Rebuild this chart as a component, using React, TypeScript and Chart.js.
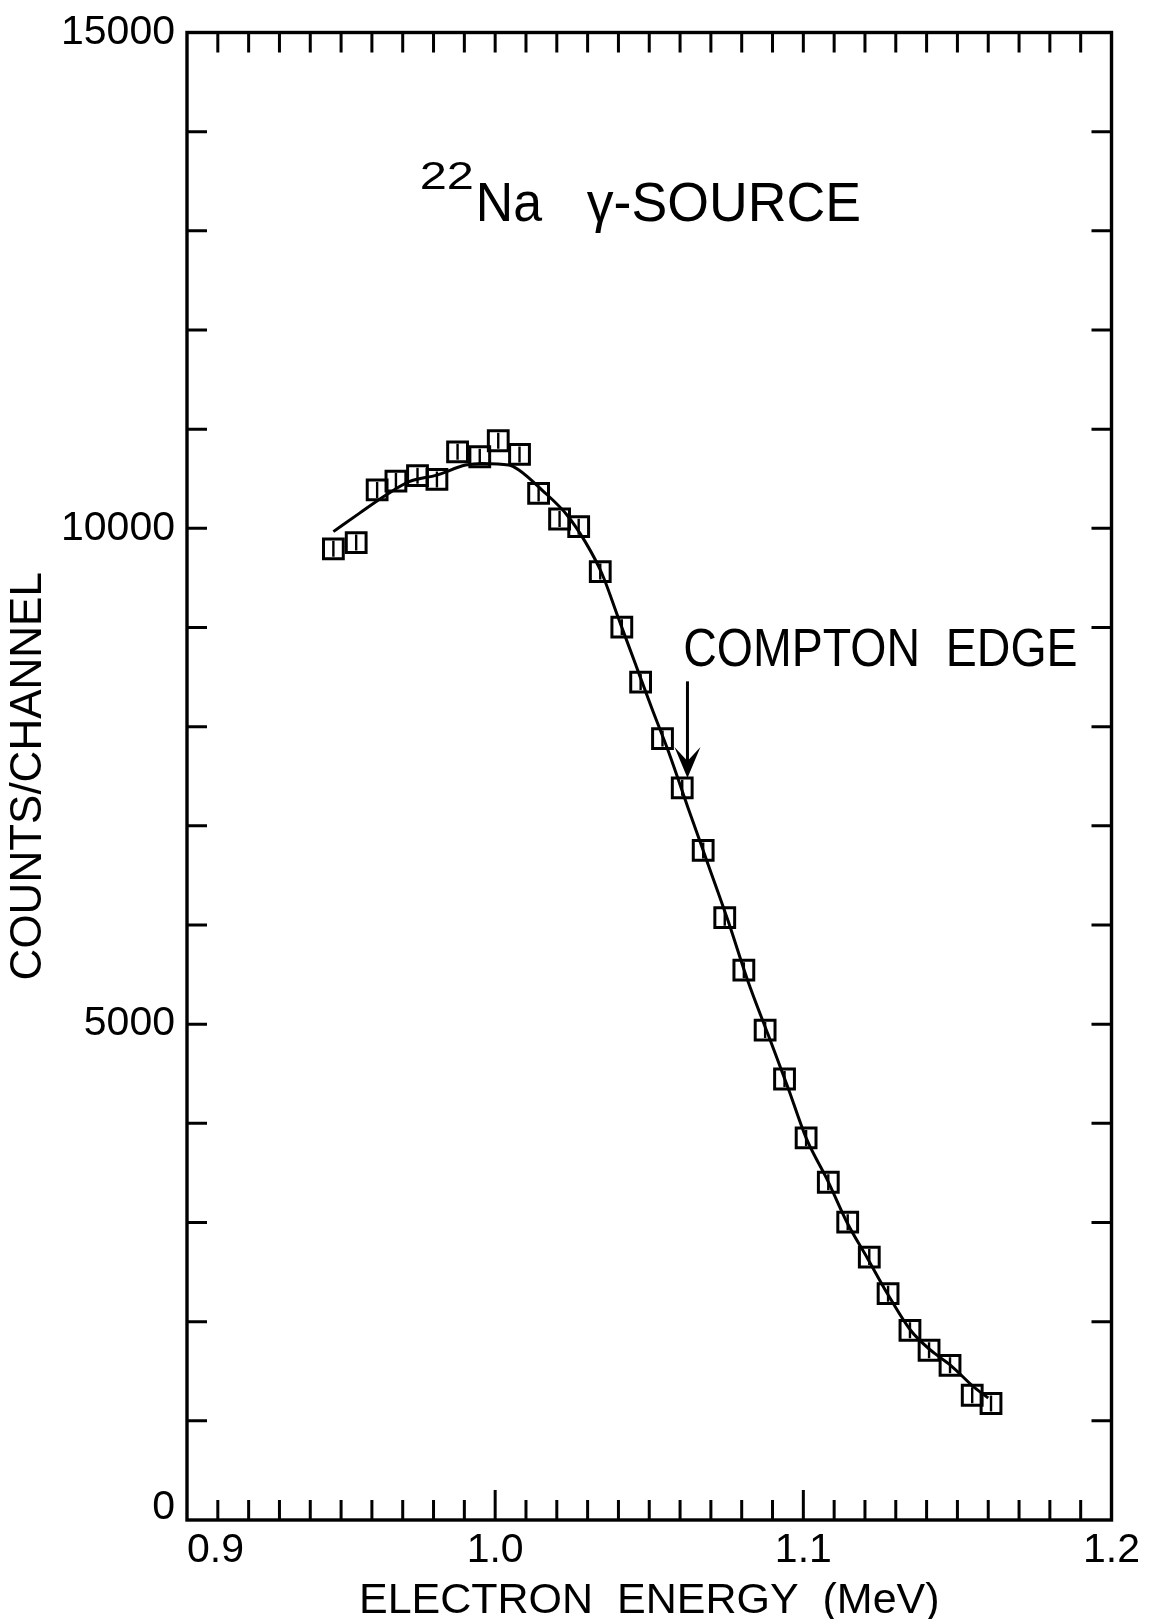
import React, { useEffect, useRef } from 'react';
import { Chart, registerables } from 'chart.js';

Chart.register(...registerables);

// ---- data ----
const ENERGY_MEV = [
  0.9475, 0.9549, 0.9617, 0.9678, 0.9748, 0.9811, 0.9878, 0.995, 1.001, 1.0079,
  1.0141, 1.0209, 1.0271, 1.0341, 1.0411, 1.0472, 1.0543, 1.0607, 1.0675, 1.0745,
  1.0807, 1.0876, 1.0939, 1.1009, 1.1081, 1.1144, 1.1214, 1.1275, 1.1346, 1.1408,
  1.1476, 1.1548, 1.1609,
];
const COUNTS = [
  9793, 9856, 10387, 10477, 10531, 10493, 10772, 10722, 10883, 10745,
  10352, 10094, 10017, 9564, 9003, 8450, 7880, 7383, 6752, 6074,
  5544, 4940, 4447, 3853, 3406, 3003, 2651, 2282, 1913, 1712,
  1560, 1258, 1175,
];
const FIT_ENERGY_MEV = [
  0.9475, 0.9559, 0.9646, 0.9721, 0.9811, 0.9904, 0.9958, 1.0044, 1.0077, 1.0152,
  1.0233, 1.0292, 1.0346, 1.04, 1.0454, 1.0508, 1.0562, 1.0626, 1.0691, 1.0756,
  1.082, 1.0885, 1.095, 1.1009, 1.1079, 1.1144, 1.1208, 1.1273, 1.1348, 1.1413,
  1.1478, 1.1553, 1.16,
];
const FIT_COUNTS = [
  9967, 10151, 10336, 10470, 10537, 10638, 10655, 10638, 10588, 10386,
  10135, 9866, 9547, 9094, 8641, 8188, 7752, 7181, 6611, 6040,
  5436, 4900, 4362, 3853, 3423, 2987, 2640, 2282, 1913, 1712,
  1560, 1342, 1230,
];

const X_TICKS = [0.9, 1.0, 1.1, 1.2];
const X_TICK_LABELS = ['0.9', '1.0', '1.1', '1.2'];
const Y_TICKS = [0, 5000, 10000, 15000];
const Y_TICK_LABELS = ['0', '5000', '10000', '15000'];
const X_MIN = 0.9;
const X_MAX = 1.2;
const Y_MIN = 0;
const Y_MAX = 15000;
const X_MINOR_STEP = 0.01;
const Y_MINOR_STEP = 1000;

const X_TITLE = 'ELECTRON  ENERGY  (MeV)';
const Y_TITLE = 'COUNTS/CHANNEL';
const TITLE_SUP = '22';
const TITLE_NUCLIDE = 'Na';
const TITLE_REST = 'γ-SOURCE';
const EDGE_LABEL = 'COMPTON  EDGE';
const EDGE_ENERGY = 1.0624;
const EDGE_ARROW_FROM = 8457;
const EDGE_ARROW_TO = 7483;

// ---- placement of annotation texts (data coordinates: [left x, right x, baseline y]) ----
const PLACE_SUP = [0.9755, 0.9931, 13420];
const PLACE_NUCLIDE = [0.9937, 1.0152, 13100];
const PLACE_REST = [1.0297, 1.1187, 13100];
const PLACE_EDGE = [1.061, 1.189, 8608];

const FONT = '"Liberation Sans", Arial, sans-serif';

function fitText(ctx: CanvasRenderingContext2D, text: string, size: number, left: number, right: number, baseline: number) {
  ctx.font = `${size}px ${FONT}`;
  ctx.textAlign = 'left';
  ctx.textBaseline = 'alphabetic';
  const w = ctx.measureText(text).width;
  const sx = (right - left) / w;
  ctx.save();
  ctx.translate(left, baseline);
  ctx.scale(sx, 1);
  ctx.fillText(text, 0, 0);
  ctx.restore();
}

const decorPlugin = {
  id: 'decor',
  afterDraw(chart: any) {
    const { ctx, chartArea: a, scales } = chart;
    const x = scales.x;
    const y = scales.y;
    ctx.save();
    ctx.strokeStyle = '#000';
    ctx.fillStyle = '#000';
    ctx.lineWidth = 3.4;
    ctx.strokeRect(a.left, a.top, a.right - a.left, a.bottom - a.top);

    // inward tick marks
    ctx.lineWidth = 3;
    ctx.beginPath();
    const nX = Math.round((X_MAX - X_MIN) / X_MINOR_STEP);
    for (let i = 1; i < nX; i++) {
      const px = x.getPixelForValue(X_MIN + i * X_MINOR_STEP);
      const major = i % 10 === 0;
      ctx.moveTo(px, a.bottom);
      ctx.lineTo(px, a.bottom - (major ? 30 : 20));
      ctx.moveTo(px, a.top);
      ctx.lineTo(px, a.top + 20);
    }
    const nY = Math.round((Y_MAX - Y_MIN) / Y_MINOR_STEP);
    for (let i = 1; i < nY; i++) {
      const py = y.getPixelForValue(Y_MIN + i * Y_MINOR_STEP);
      ctx.moveTo(a.left, py);
      ctx.lineTo(a.left + 20, py);
      ctx.moveTo(a.right, py);
      ctx.lineTo(a.right - 20, py);
    }
    ctx.stroke();

    // title
    fitText(ctx, TITLE_SUP, 39, x.getPixelForValue(PLACE_SUP[0]), x.getPixelForValue(PLACE_SUP[1]), y.getPixelForValue(PLACE_SUP[2]));
    fitText(ctx, TITLE_NUCLIDE, 56, x.getPixelForValue(PLACE_NUCLIDE[0]), x.getPixelForValue(PLACE_NUCLIDE[1]), y.getPixelForValue(PLACE_NUCLIDE[2]));
    fitText(ctx, TITLE_REST, 56, x.getPixelForValue(PLACE_REST[0]), x.getPixelForValue(PLACE_REST[1]), y.getPixelForValue(PLACE_REST[2]));

    // Compton edge label + arrow
    fitText(ctx, EDGE_LABEL, 54, x.getPixelForValue(PLACE_EDGE[0]), x.getPixelForValue(PLACE_EDGE[1]), y.getPixelForValue(PLACE_EDGE[2]));
    const ax = x.getPixelForValue(EDGE_ENERGY);
    const ay0 = y.getPixelForValue(EDGE_ARROW_FROM);
    const ay1 = y.getPixelForValue(EDGE_ARROW_TO);
    ctx.lineWidth = 3;
    ctx.beginPath();
    ctx.moveTo(ax, ay0);
    ctx.lineTo(ax, ay1 - 10);
    ctx.stroke();
    ctx.beginPath();
    ctx.moveTo(ax, ay1);
    ctx.lineTo(ax - 13, ay1 - 31);
    ctx.lineTo(ax, ay1 - 17);
    ctx.lineTo(ax + 13, ay1 - 31);
    ctx.closePath();
    ctx.fill();
    ctx.restore();
  },
};

export default function App() {
  const ref = useRef<HTMLCanvasElement | null>(null);

  useEffect(() => {
    if (!ref.current) return;
    const points = ENERGY_MEV.map((e, i) => ({ x: e, y: COUNTS[i] }));
    const fit = FIT_ENERGY_MEV.map((e, i) => ({ x: e, y: FIT_COUNTS[i] }));
    const chart = new Chart(ref.current, {
      type: 'scatter',
      data: {
        datasets: [
          {
            label: 'fit',
            data: fit,
            showLine: true,
            borderColor: '#000',
            borderWidth: 3,
            pointRadius: 0,
            cubicInterpolationMode: 'monotone',
            fill: false,
          } as any,
          {
            label: 'counts',
            data: points,
            pointStyle: 'rect',
            pointRadius: 14,
            pointBorderWidth: 3,
            borderColor: '#000',
            backgroundColor: 'rgba(0,0,0,0)',
            showLine: false,
          },
          {
            label: 'counts-inner',
            data: points,
            pointStyle: 'line',
            pointRotation: 90,
            pointRadius: 8,
            pointBorderWidth: 2.4,
            borderColor: '#000',
            showLine: false,
          } as any,
        ],
      },
      options: {
        responsive: false,
        animation: false,
        devicePixelRatio: 1,
        events: [],
        layout: { padding: { top: 30, right: 35, left: 0, bottom: 0 } },
        plugins: { legend: { display: false }, tooltip: { enabled: false } },
        scales: {
          x: {
            type: 'linear',
            min: X_MIN,
            max: X_MAX,
            afterBuildTicks: (s: any) => {
              s.ticks = X_TICKS.map((v) => ({ value: v }));
            },
            afterFit: (s: any) => {
              s.height = 99;
            },
            grid: { display: false, drawTicks: false },
            border: { display: false },
            ticks: {
              color: '#000',
              padding: 10,
              maxRotation: 0,
              autoSkip: false,
              font: { family: FONT, size: 41, lineHeight: 1 },
              callback: (_v: any, i: number) => (i === 0 ? '     ' + X_TICK_LABELS[i] : X_TICK_LABELS[i]),
            },
            title: {
              display: true,
              text: X_TITLE,
              color: '#000',
              font: { family: FONT, size: 43, lineHeight: 0.85 },
              padding: { top: 0, bottom: 0 },
            },
          },
          y: {
            type: 'linear',
            min: Y_MIN,
            max: Y_MAX,
            afterBuildTicks: (s: any) => {
              s.ticks = Y_TICKS.map((v) => ({ value: v }));
            },
            afterFit: (s: any) => {
              s.width = 187;
            },
            grid: { display: false, drawTicks: false },
            border: { display: false },
            ticks: {
              color: '#000',
              padding: 12,
              autoSkip: false,
              font: (c: any) =>
                c.index === 0
                  ? { family: FONT, size: 41, lineHeight: '24px' }
                  : { family: FONT, size: 41, lineHeight: 1 },
              callback: (_v: any, i: number) => (i === 0 ? [Y_TICK_LABELS[i], ''] : Y_TICK_LABELS[i]),
            },
            title: {
              display: true,
              text: Y_TITLE,
              color: '#000',
              font: { family: FONT, size: 44, lineHeight: 1 },
              padding: { top: 7, bottom: 0 },
            },
          },
        },
      },
      plugins: [decorPlugin],
    });
    return () => chart.destroy();
  }, []);

  return (
    <div style={{ position: 'fixed', left: 0, top: 0, width: 1150, height: 1619, background: '#fff' }}>
      <canvas ref={ref} width={1150} height={1619} style={{ width: 1150, height: 1619, display: 'block' }} />
    </div>
  );
}
